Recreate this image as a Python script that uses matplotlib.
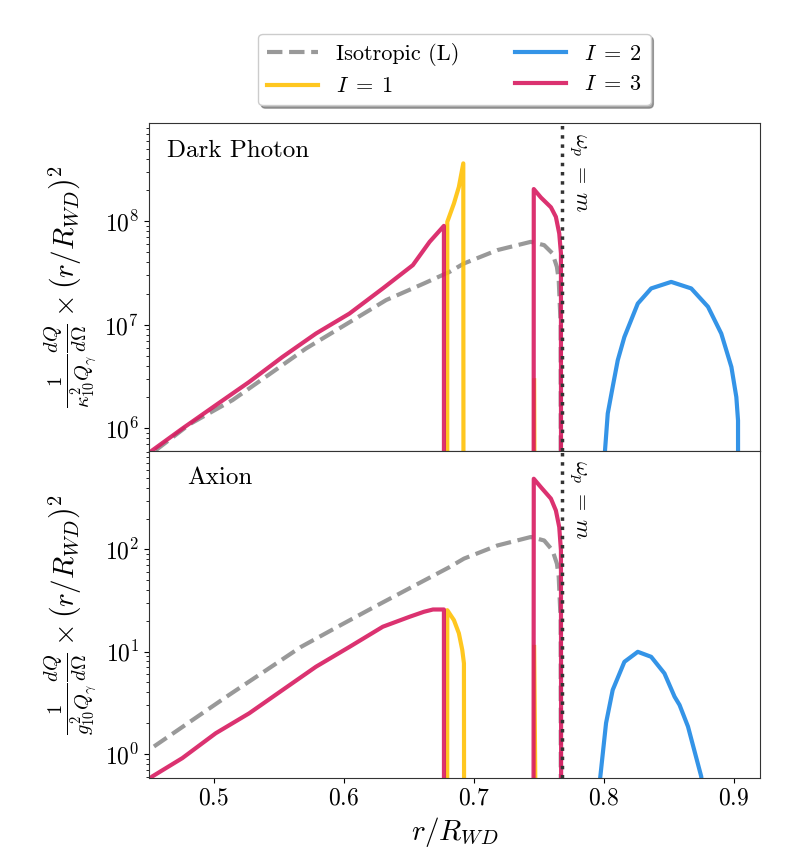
import numpy as np
import matplotlib
matplotlib.use("Agg")
import matplotlib.pyplot as plt
import matplotlib.transforms as mtransforms

plt.rcParams['font.family'] = 'serif'
plt.rcParams['font.serif'] = ['cmr10']
plt.rcParams['mathtext.fontset'] = 'cm'
plt.rcParams['axes.unicode_minus'] = False
plt.rcParams['axes.formatter.use_mathtext'] = True

# --- data (r / R_WD, emission) ---
LOW = 1e-3  # values that fall off the bottom of the log axis

# dark photon panel
r_iso_dp = [0.4551, 0.4816, 0.5143, 0.5425, 0.5708, 0.600, 0.6325, 0.6615, 0.6813, 0.6923,
            0.718, 0.7437, 0.754, 0.7604, 0.7638, 0.7652, 0.7667, 0.7669]
iso_dp = [6.12e5, 1.10e6, 1.87e6, 3.31e6, 5.89e6, 9.8e6, 1.73e7, 2.50e7, 3.24e7, 3.90e7,
          5.25e7, 6.31e7, 5.86e7, 4.88e7, 3.61e7, 2.69e7, 1.0e7, LOW]

r_i1 = [0.6793, 0.6795, 0.6846, 0.6884, 0.6918, 0.6923, np.nan, 0.7463, 0.7490]
i1_dp = [LOW, 9.84e7, 1.48e8, 2.14e8, 3.61e8, LOW, np.nan, 2.91e6, LOW]

r_i2_dp = [0.7995, 0.8008, 0.8029, 0.8067, 0.8106, 0.8157, 0.826, 0.8363, 0.8517,
           0.8671, 0.880, 0.8902, 0.898, 0.9018, 0.9031, 0.9035]
i2_dp = [3e5, 6.12e5, 1.39e6, 2.51e6, 4.54e6, 7.62e6, 1.60e7, 2.24e7, 2.59e7,
         2.24e7, 1.49e7, 8.22e6, 3.91e6, 2.0e6, 1.19e6, LOW]

r_i3 = [0.450, 0.4526, 0.4757, 0.5014, 0.5271, 0.5528, 0.5785, 0.6042, 0.6299, 0.653,
        0.6659, 0.6769, 0.6770, np.nan,
        0.7457, 0.7460, 0.7515, 0.7592, 0.763, 0.7656, 0.7669, 0.7672]
i3_dp = [5.75e5, 6.12e5, 9.93e5, 1.67e6, 2.80e6, 4.89e6, 8.22e6, 1.28e7, 2.24e7, 3.76e7,
         6.31e7, 9.0e7, LOW, np.nan,
         LOW, 2.04e8, 1.69e8, 1.36e8, 1.10e8, 7.59e7, 4.88e7, LOW]

# axion panel
r_iso_ax = [0.4539, 0.4816, 0.5117, 0.5393, 0.5669, 0.5952, 0.6235, 0.6524, 0.6813, 0.6923,
            0.718, 0.7437, 0.754, 0.7604, 0.7638, 0.7652, 0.7667, 0.7669]
iso_ax = [1.18, 2.06, 3.77, 6.46, 11.1, 17.5, 27.4, 42.9, 67.1, 81.1,
          109, 132, 122, 97.7, 72.4, 53.7, 20.0, LOW]

r_i1_ax = [0.6793, 0.6795, 0.6846, 0.6884, 0.691, 0.6923, 0.6926, np.nan, 0.7463, 0.7490]
i1_ax = [LOW, 25.4, 20.3, 15.1, 10.4, 7.67, LOW, np.nan, 11.1, LOW]

r_i2_ax = [0.7972, 0.8016, 0.8067, 0.8157, 0.826, 0.8363, 0.8465, 0.8543, 0.8581,
           0.8646, 0.8748, 0.877]
i2_ax = [0.601, 2.0, 4.21, 7.94, 9.95, 8.89, 6.12, 3.62, 3.01,
         1.85, 0.601, 0.3]

r_i3_ax = [0.4508, 0.4526, 0.4757, 0.5014, 0.5271, 0.5528, 0.5785, 0.6042, 0.6299, 0.6505,
           0.6615, 0.6685, 0.6769, 0.6770, np.nan,
           0.7457, 0.7460, 0.7515, 0.7592, 0.763, 0.7656, 0.7669, 0.7672]
i3_ax = [0.575, 0.601, 0.908, 1.59, 2.49, 4.21, 7.11, 11.1, 17.5, 21.9,
         24.5, 25.8, 25.8, LOW, np.nan,
         LOW, 490, 405, 313, 240, 165, 97.7, LOW]

r_plasma = 0.7677

C_ISO = '#999999'
C_I1 = '#FFC107'
C_I2 = '#1E88E5'
C_I3 = '#D81B60'

fig, (ax1, ax2) = plt.subplots(2, 1, figsize=(7.92, 8.64), dpi=100, sharex=True)
fig.subplots_adjust(left=0.188, right=0.9596, top=0.8576, bottom=0.0995, hspace=0)

panels = [
    (ax1, r_iso_dp, iso_dp, r_i1, i1_dp, r_i2_dp, i2_dp, r_i3, i3_dp),
    (ax2, r_iso_ax, iso_ax, r_i1_ax, i1_ax, r_i2_ax, i2_ax, r_i3_ax, i3_ax),
]
for ax, rx0, y0, rx1, y1, rx2, y2, rx3, y3 in panels:
    ax.plot(rx0, y0, '--', color=C_ISO, lw=3, label='Isotropic (L)')
    ax.plot(rx1, y1, color=C_I1, lw=3, alpha=0.9, label=r'$I\;=\;1$')
    ax.plot(rx2, y2, color=C_I2, lw=3, alpha=0.9, label=r'$I\;=\;2$')
    ax.plot(rx3, y3, color=C_I3, lw=3, alpha=0.9, label=r'$I\;=\;3$')
    ax.axvline(r_plasma, color='#333333', ls=':', lw=2.5)
    ax.set_yscale('log')
    ax.tick_params(labelsize=17)
    trans = mtransforms.blended_transform_factory(ax.transData, ax.transAxes)
    ax.text(r_plasma + 0.004, 0.97, r'$\omega_p\;=\;m$', transform=trans, rotation=270,
            ha='left', va='top', fontsize=16)
    for s in ax.spines.values():
        s.set_color('#333333')

ax1.set_xlim(0.45, 0.92)
ax1.set_ylim(6.1e5, 8.85e8)
ax2.set_ylim(0.58, 925)

ax1.text(0.03, 0.915, 'Dark Photon', transform=ax1.transAxes, fontsize=18, va='center')
ax2.text(0.062, 0.915, 'Axion', transform=ax2.transAxes, fontsize=18, va='center')

ax1.set_ylabel(r'$\frac{1}{\kappa_{10}^2 Q_\gamma}\frac{dQ}{d\Omega}\times\left(r/R_{WD}\right)^2$',
               fontsize=21)
ax2.set_ylabel(r'$\frac{1}{g_{10}^2 Q_\gamma}\frac{dQ}{d\Omega}\times\left(r/R_{WD}\right)^2$',
               fontsize=21)
ax2.set_xlabel(r'$r/R_{WD}$', fontsize=21)

ax1.legend(loc='lower center', bbox_to_anchor=(0.5, 1.02), ncol=2, fontsize=16,
           shadow=True, handlelength=2.3, columnspacing=2.5)

fig.savefig('out.png', dpi=100)
